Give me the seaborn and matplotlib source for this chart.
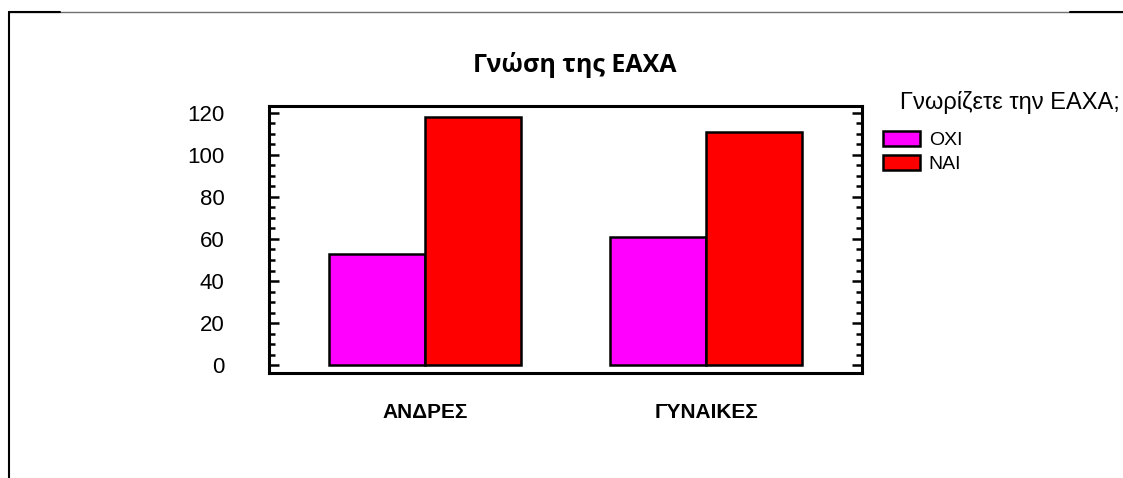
"""Grouped bar chart: knowledge of EAXA by gender."""

import matplotlib.pyplot as plt
import matplotlib.lines as mlines
import matplotlib.patches as mpatches
import pandas as pd
import seaborn as sns

# --- data ---
genders = ["ΑΝΔΡΕΣ", "ΓΥΝΑΙΚΕΣ"]
answers = ["ΟΧΙ", "ΝΑΙ"]
oxi_counts = [53, 61]
nai_counts = [118, 111]
bar_colors = {"ΟΧΙ": "#FF00FF", "ΝΑΙ": "#FF0000"}

df = pd.DataFrame({
    "gender": genders * 2,
    "answer": ["ΟΧΙ"] * len(genders) + ["ΝΑΙ"] * len(genders),
    "count": oxi_counts + nai_counts,
})

sns.set_style("white")
plt.rcParams['font.family'] = ['Liberation Sans', 'DejaVu Sans']
plt.rcParams['text.color'] = 'black'
plt.rcParams['xtick.labelcolor'] = 'black'
plt.rcParams['ytick.labelcolor'] = 'black'

W, H = 1123, 478
fig = plt.figure(figsize=(W / 100, H / 100), dpi=100)
ax = fig.add_axes([269 / W, 1 - 373 / H, 593 / W, 267 / H])

sns.barplot(
    data=df,
    x="gender",
    y="count",
    hue="answer",
    hue_order=answers,
    order=genders,
    palette=bar_colors,
    width=0.68,
    edgecolor="black",
    linewidth=1.8,
    saturation=1,
    legend=False,
    ax=ax,
)

ax.set_xlim(-0.555, 1.555)
ax.set_ylim(-3.7, 123.2)
ax.set_yticks(range(0, 121, 20))
ax.set_yticks(range(0, 121, 5), minor=True)
ax.set_xlabel("")
ax.set_ylabel("")

for side in ["top", "bottom", "left", "right"]:
    ax.spines[side].set_visible(True)
    ax.spines[side].set_linewidth(2.2)
    ax.spines[side].set_color("black")

ax.tick_params(axis="y", which="both", direction="in", left=True, right=True,
               width=1.8, color="black", labelsize=16, pad=32)
ax.tick_params(axis="y", which="major", length=7.5)
ax.tick_params(axis="y", which="minor", length=4.5)
ax.tick_params(axis="x", which="both", bottom=False, labelsize=15, pad=18)
for lbl in ax.get_xticklabels():
    lbl.set_fontweight("bold")

fig.text(575 / W, 1 - 65 / H, "Γνώση της ΕΑΧΑ", ha="center", va="center",
         fontsize=18, fontweight="bold", family=["Open Sans", "DejaVu Sans"])

# legend
fig.text(1120 / W, 1 - 102 / H, "Γνωρίζετε την ΕΑΧΑ;", ha="right", va="center",
         fontsize=17)
handles = [mpatches.Patch(facecolor=bar_colors[a], edgecolor="black", linewidth=1.8, label=a)
           for a in answers]
fig.legend(handles=handles, loc="upper left", bbox_to_anchor=(881 / W, 1 - 129 / H),
           frameon=False, fontsize=14, handlelength=1.9, handleheight=0.8,
           handletextpad=0.45, labelspacing=0.3, borderaxespad=0, borderpad=0.1)

# outer frame
fig.add_artist(mlines.Line2D([9 / W, 1], [1 - 12 / H, 1 - 12 / H], color="#707070",
                             lw=1.0, transform=fig.transFigure))
fig.add_artist(mlines.Line2D([9 / W, 60 / W], [1 - 12 / H, 1 - 12 / H], color="black",
                             lw=1.5, transform=fig.transFigure))
fig.add_artist(mlines.Line2D([1070 / W, 1], [1 - 12 / H, 1 - 12 / H], color="black",
                             lw=1.5, transform=fig.transFigure))
fig.add_artist(mlines.Line2D([9 / W, 9 / W], [0, 1 - 12 / H], color="black",
                             lw=1.5, transform=fig.transFigure))

fig.savefig("out.png", dpi=100)
